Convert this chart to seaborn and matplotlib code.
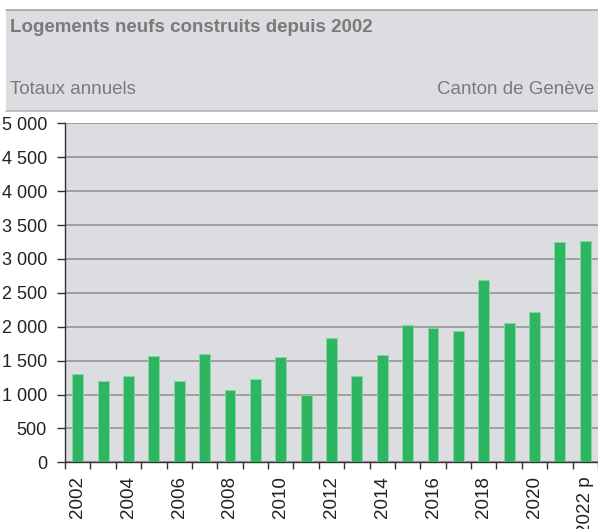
import seaborn as sns
import matplotlib.pyplot as plt
from matplotlib.patches import Rectangle
from matplotlib.lines import Line2D
from matplotlib.ticker import FuncFormatter

years = [str(y) for y in range(2002, 2023)]
logements = [1300, 1200, 1275, 1570, 1200, 1600, 1070, 1225, 1555, 995, 1830,
             1275, 1580, 2030, 1985, 1930, 2690, 2055, 2210, 3245, 3270]
year_labels = ['2002', '', '2004', '', '2006', '', '2008', '', '2010', '', '2012',
               '', '2014', '', '2016', '', '2018', '', '2020', '', '2022 p']

title = 'Logements neufs construits depuis 2002'
subtitle_left = 'Totaux annuels'
subtitle_right = 'Canton de Genève'

bg = '#dcdde0'
green = '#2db562'
text_grey = '#7a7a7a'

sns.set_theme(style='white')
plt.rcParams['font.family'] = ['Liberation Sans', 'DejaVu Sans']

W, H = 598, 529
fig = plt.figure(figsize=(W / 100, H / 100), dpi=100)

# header band
fig.patches.append(Rectangle((6 / W, 1 - 111 / H), 1 - 6 / W, 101 / H,
                             transform=fig.transFigure, facecolor=bg, edgecolor='none', zorder=0))
fig.lines.append(Line2D([6 / W, 1], [1 - 10 / H, 1 - 10 / H], transform=fig.transFigure,
                        color='#a6a6a6', lw=1.2))
fig.lines.append(Line2D([6 / W, 1], [1 - 111 / H, 1 - 111 / H], transform=fig.transFigure,
                        color='#b5b5b5', lw=1.2))
fig.text(10 / W, 1 - 28 / H, title, fontsize=13.5, fontweight='bold', color=text_grey, va='center')
fig.text(10 / W, 1 - 89 / H, subtitle_left, fontsize=13.5, color=text_grey, va='center')
fig.text(594 / W, 1 - 89 / H, subtitle_right, fontsize=13.5, color=text_grey, va='center', ha='right')

ax = fig.add_axes([65 / W, (H - 462.3) / H, (W - 65) / W, 339 / H])
ax.set_facecolor(bg)
sns.barplot(x=years, y=logements, color=green, width=0.43, saturation=1,
            edgecolor='#86d7a2', linewidth=0.6, ax=ax, zorder=3)

ax.set_xlim(-0.5, len(years) - 0.5)
ax.set_ylim(0, 5000)
ax.set_yticks(range(0, 5001, 500))
ax.yaxis.set_major_formatter(FuncFormatter(lambda v, p: f'{int(v):,}'.replace(',', ' ')))
ax.grid(axis='y', color='#8e8e8e', lw=1.1, zorder=0)
ax.set_axisbelow(True)

ax.set_xticks(range(len(years)))
ax.set_xticklabels(year_labels, rotation=90)
ax.set_xticks([i - 0.5 for i in range(len(years) + 1)], minor=True)
ax.tick_params(axis='x', which='major', length=0, pad=10, labelsize=13.5, labelcolor='#222222')
ax.tick_params(axis='x', which='minor', length=5, width=1, color='#333333', direction='out', bottom=True)
ax.tick_params(axis='y', length=6, width=1, color='#333333', direction='out', left=True,
               pad=7, labelsize=13, labelcolor='#222222')

for s in ['top', 'right']:
    ax.spines[s].set_visible(False)
for s in ['left', 'bottom']:
    ax.spines[s].set_color('#333333')
    ax.spines[s].set_linewidth(1)

ax.set_xlabel('')
ax.set_ylabel('')

fig.savefig('out.png', dpi=100)
